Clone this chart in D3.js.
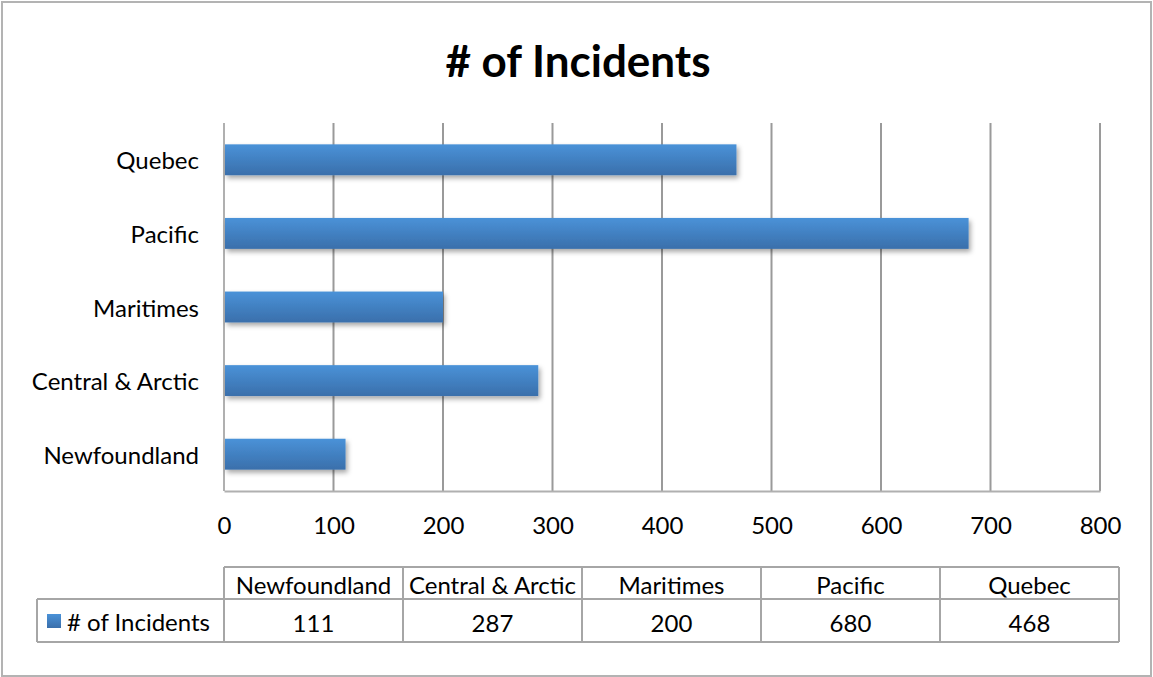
<!DOCTYPE html>
<meta charset="utf-8">
<title># of Incidents</title>
<style>
body { margin: 0; background: #fff; }
svg { font-family: Lato, "Open Sans", sans-serif; }
.grid line { stroke: #9a9a9a; stroke-width: 2px; }
.axis path, .axis line { stroke: #b0b0b0; stroke-width: 2px; }
.axis text { fill: #000; font-size: 24px; font-family: Lato, sans-serif; }
.table line { stroke: #a6a6a6; stroke-width: 2px; }
.table text { font-size: 24px; fill: #000; }
</style>
<body>
<script src="https://d3js.org/d3.v7.min.js"></script>
<script>

var regions = ["Newfoundland", "Central & Arctic", "Maritimes", "Pacific", "Quebec"];
var incidents = [111, 287, 200, 680, 468];
var seriesName = "# of Incidents";
var xTicks = [0, 100, 200, 300, 400, 500, 600, 700, 800];

var width = 1153, height = 677;
var plot = {left: 224, right: 1100, top: 123, bottom: 491};

var svg = d3.select("body").append("svg")
    .attr("width", width)
    .attr("height", height);

var defs = svg.append("defs");
var grad = defs.append("linearGradient")
    .attr("id", "barGrad")
    .attr("x1", 0).attr("y1", 0).attr("x2", 0).attr("y2", 1);
grad.append("stop").attr("offset", "0%").attr("stop-color", "#4a92d8");
grad.append("stop").attr("offset", "100%").attr("stop-color", "#3a6fab");

var shadow = defs.append("filter")
    .attr("id", "shadow")
    .attr("x", "-10%").attr("y", "-30%")
    .attr("width", "130%").attr("height", "190%");
shadow.append("feDropShadow")
    .attr("dx", 2).attr("dy", 3)
    .attr("stdDeviation", 2.5)
    .attr("flood-color", "#000")
    .attr("flood-opacity", 0.35);

// outer frame
svg.append("rect")
    .attr("x", 2).attr("y", 2)
    .attr("width", width - 4).attr("height", height - 3)
    .attr("fill", "none")
    .attr("stroke", "#b3b3b3")
    .attr("stroke-width", 2);

svg.append("text")
    .attr("x", 578)
    .attr("y", 77)
    .attr("text-anchor", "middle")
    .style("font-size", "44px")
    .style("font-weight", "bold")
    .text(seriesName);

var x = d3.scaleLinear()
    .domain([0, 800])
    .range([plot.left, plot.right]);

// categories drawn bottom-up like Excel
var y = d3.scaleBand()
    .domain(regions.slice().reverse())
    .range([plot.top, plot.bottom])
    .paddingInner(0.58)
    .paddingOuter(0.29);

svg.append("g")
    .attr("class", "grid")
  .selectAll("line")
    .data(xTicks.slice(1))
  .enter().append("line")
    .attr("x1", function(d) { return x(d); })
    .attr("x2", function(d) { return x(d); })
    .attr("y1", plot.top)
    .attr("y2", plot.bottom);

svg.append("g")
    .attr("class", "axis")
    .attr("transform", "translate(0," + plot.bottom + ")")
    .call(d3.axisBottom(x).tickValues(xTicks).tickSize(0).tickPadding(26))
    .call(function(g) { g.selectAll("text").attr("dy", "0.71em"); });

svg.append("g")
    .attr("class", "axis")
    .attr("transform", "translate(" + plot.left + ",0)")
    .call(d3.axisLeft(y).tickSize(0).tickPadding(25))
    .call(function(g) {
      g.select(".domain").attr("d", "M0," + plot.top + "V" + plot.bottom);
      g.selectAll("text").attr("dy", "0.4em");
    });

svg.append("g")
  .selectAll("rect")
    .data(regions)
  .enter().append("rect")
    .attr("x", x(0) + 1)
    .attr("y", function(d) { return y(d); })
    .attr("width", function(d, i) { return x(incidents[i]) - x(0) - 1; })
    .attr("height", y.bandwidth())
    .attr("fill", "url(#barGrad)")
    .attr("filter", "url(#shadow)");

// data table
var col = d3.scaleBand()
    .domain(regions)
    .range([224, 1119]);

var tHead = 567, tMid = 599, tBot = 642, legLeft = 37;
var table = svg.append("g").attr("class", "table");

table.append("line").attr("x1", col.range()[0]).attr("x2", col.range()[1]).attr("y1", tHead).attr("y2", tHead);
table.append("line").attr("x1", legLeft).attr("x2", col.range()[1]).attr("y1", tMid).attr("y2", tMid);
table.append("line").attr("x1", legLeft).attr("x2", col.range()[1]).attr("y1", tBot).attr("y2", tBot);
table.append("line").attr("x1", legLeft).attr("x2", legLeft).attr("y1", tMid).attr("y2", tBot);

table.selectAll(".vline")
    .data(regions.concat(["end"]))
  .enter().append("line")
    .attr("class", "vline")
    .attr("x1", function(d) { return d === "end" ? col.range()[1] : col(d); })
    .attr("x2", function(d) { return d === "end" ? col.range()[1] : col(d); })
    .attr("y1", tHead)
    .attr("y2", tBot);

table.selectAll(".head")
    .data(regions)
  .enter().append("text")
    .attr("class", "head")
    .attr("x", function(d) { return col(d) + col.bandwidth() / 2; })
    .attr("y", tHead + 27)
    .attr("text-anchor", "middle")
    .text(function(d) { return d; });

table.selectAll(".val")
    .data(incidents)
  .enter().append("text")
    .attr("class", "val")
    .attr("x", function(d, i) { return col(regions[i]) + col.bandwidth() / 2; })
    .attr("y", tMid + 33)
    .attr("text-anchor", "middle")
    .text(function(d) { return d; });

table.append("rect")
    .attr("x", 47).attr("y", 614)
    .attr("width", 14).attr("height", 14)
    .attr("fill", "url(#barGrad)");

table.append("text")
    .attr("x", 67)
    .attr("y", tMid + 32)
    .text(seriesName);

</script>
</body>
